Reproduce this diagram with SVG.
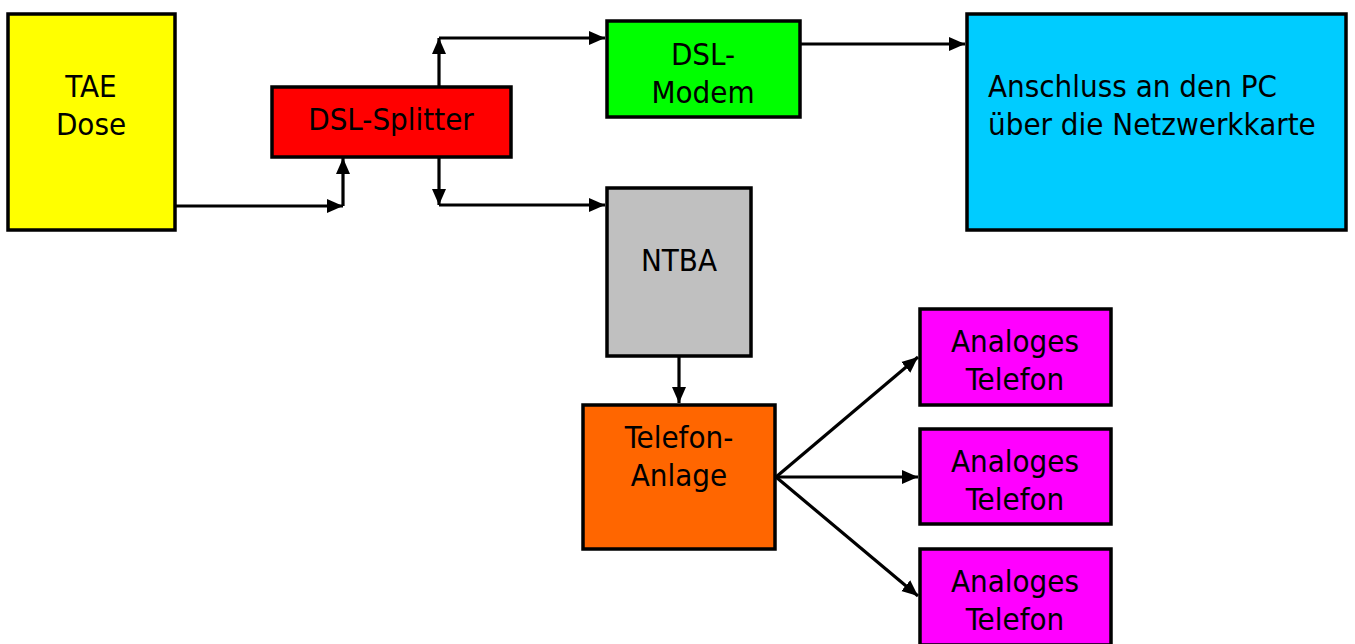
<svg xmlns="http://www.w3.org/2000/svg" width="1355" height="644" viewBox="0 0 1355 644">
<style>
.box{stroke:#000;stroke-width:3.5}
.t{font-family:"DejaVu Sans Condensed","DejaVu Sans",sans-serif;font-size:31px;fill:#000;text-anchor:middle}
.c{fill:none;stroke:#000;stroke-width:3.2}
</style>
<defs>
<marker id="ah" markerUnits="userSpaceOnUse" markerWidth="17" markerHeight="15" refX="16" refY="7" orient="auto" viewBox="0 0 17 14">
<path d="M0,0 L16,7 L0,14 z" fill="#000"/>
</marker>
</defs>
<rect width="1355" height="644" fill="#fff"/>
<g id="connectors">
<polyline class="c" points="176,206 343,206" marker-end="url(#ah)"/>
<polyline class="c" points="343,206 343,158" marker-end="url(#ah)"/>
<polyline class="c" points="439,86 439,38" marker-end="url(#ah)"/>
<polyline class="c" points="439,38 605,38" marker-end="url(#ah)"/>
<polyline class="c" points="439,157 439,205" marker-end="url(#ah)"/>
<polyline class="c" points="439,205 605,205" marker-end="url(#ah)"/>
<polyline class="c" points="800,44 965,44" marker-end="url(#ah)"/>
<polyline class="c" points="679,356 679,403" marker-end="url(#ah)"/>
<polyline class="c" points="776,477 918,357" marker-end="url(#ah)"/>
<polyline class="c" points="776,477 918,477" marker-end="url(#ah)"/>
<polyline class="c" points="776,477 918,596" marker-end="url(#ah)"/>
</g>
<g id="tae">
<rect class="box" x="8" y="14" width="167" height="216" fill="#FFFF00"/>
<text class="t" x="91" y="97">TAE</text>
<text class="t" x="91" y="135">Dose</text>
</g>
<g id="splitter">
<rect class="box" x="272" y="87" width="239" height="70" fill="#FF0000"/>
<text class="t" x="391" y="130">DSL-Splitter</text>
</g>
<g id="modem">
<rect class="box" x="607" y="21" width="193" height="96" fill="#00FF00"/>
<text class="t" x="703" y="65">DSL-</text>
<text class="t" x="703" y="103">Modem</text>
</g>
<g id="pc">
<rect class="box" x="967" y="14" width="379" height="216" fill="#00CCFF"/>
<text class="t" x="988" y="97" style="text-anchor:start">Anschluss an den PC</text>
<text class="t" x="988" y="135" style="text-anchor:start">über die Netzwerkkarte</text>
</g>
<g id="ntba">
<rect class="box" x="607" y="188" width="144" height="168" fill="#C0C0C0"/>
<text class="t" x="679" y="271">NTBA</text>
</g>
<g id="anlage">
<rect class="box" x="583" y="405" width="192" height="144" fill="#FF6600"/>
<text class="t" x="679" y="448">Telefon-</text>
<text class="t" x="679" y="486">Anlage</text>
</g>
<g id="tel1">
<rect class="box" x="920" y="309" width="191" height="96" fill="#FF00FF"/>
<text class="t" x="1015" y="352">Analoges</text>
<text class="t" x="1015" y="390">Telefon</text>
</g>
<g id="tel2">
<rect class="box" x="920" y="429" width="191" height="95" fill="#FF00FF"/>
<text class="t" x="1015" y="472">Analoges</text>
<text class="t" x="1015" y="510">Telefon</text>
</g>
<g id="tel3">
<rect class="box" x="920" y="549" width="191" height="96" fill="#FF00FF"/>
<text class="t" x="1015" y="592">Analoges</text>
<text class="t" x="1015" y="630">Telefon</text>
</g>
</svg>
